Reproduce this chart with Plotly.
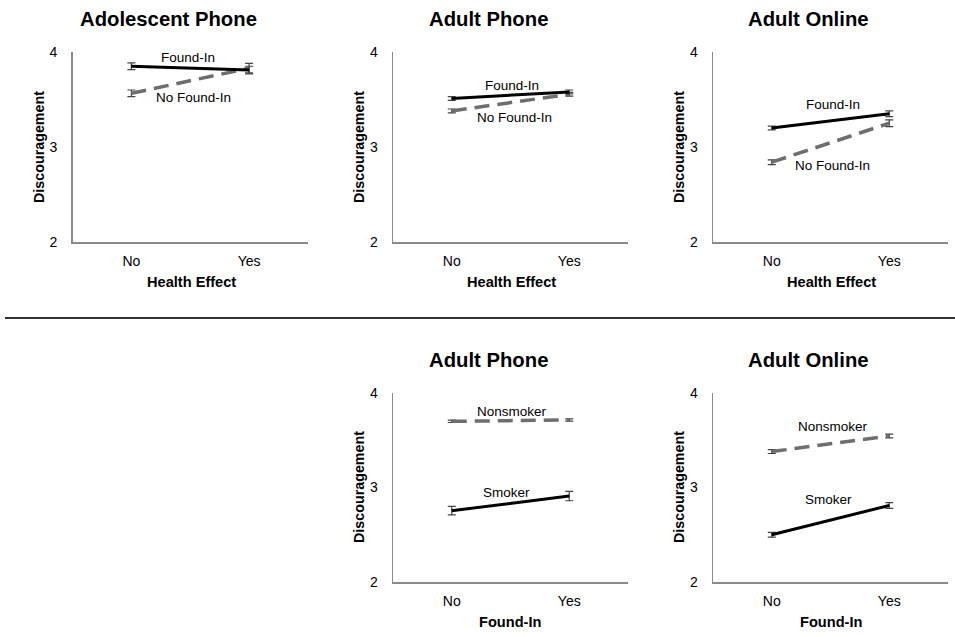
import plotly.graph_objects as go

# ---------------- data ----------------
categories = ["No", "Yes"]

panel_titles = ["Adolescent Phone", "Adult Phone", "Adult Online", "Adult Phone", "Adult Online"]
x_titles = ["Health Effect", "Health Effect", "Health Effect", "Found-In", "Found-In"]
y_title = "Discouragement"
y_ticks = [2, 3, 4]

# top row: lines for Found-In (solid) and No Found-In (dashed)
top_solid_name = "Found-In"
top_dash_name = "No Found-In"
found_in_vals = [[3.85, 3.81], [3.51, 3.58], [3.20, 3.35]]
found_in_err = [[0.035, 0.04], [0.02, 0.02], [0.02, 0.03]]
no_found_in_vals = [[3.565, 3.83], [3.38, 3.555], [2.84, 3.25]]
no_found_in_err = [[0.035, 0.05], [0.02, 0.02], [0.025, 0.035]]

# bottom row: Smoker (solid) and Nonsmoker (dashed)
bot_solid_name = "Smoker"
bot_dash_name = "Nonsmoker"
smoker_vals = [[2.755, 2.91], [2.50, 2.81]]
smoker_err = [[0.045, 0.05], [0.025, 0.03]]
nonsmoker_vals = [[3.70, 3.715], [3.38, 3.545]]
nonsmoker_err = [[0.012, 0.012], [0.02, 0.02]]

# ---------------- layout geometry ----------------
W, H = 955, 637
def px(x):
    return x / W
def py(y):
    return 1 - y / H

# plot areas in pixels (left, right, top, bottom)
areas = [
    (72.5, 308, 52, 242),
    (393, 628, 52, 242),
    (713, 948, 52, 242),
    (393, 628, 393, 582),
    (713, 948, 393, 582),
]
title_pos = [(168, 19), (488, 19), (808, 19), (488, 360), (808, 360)]
xtitle_pos = [(191, 282), (511, 282), (831, 282), (510, 622), (831, 622)]
ytitle_pos = [(39, 147), (359, 147), (679, 147), (359, 487), (679, 487)]
# label annotations (data coords: x index, y value)
label_pos = [
    [(0.48, 3.94, top_solid_name), (0.53, 3.52, top_dash_name)],
    [(0.51, 3.65, top_solid_name), (0.53, 3.31, top_dash_name)],
    [(0.52, 3.45, top_solid_name), (0.52, 2.81, top_dash_name)],
    [(0.51, 3.80, bot_dash_name), (0.47, 2.95, bot_solid_name)],
    [(0.52, 3.65, bot_dash_name), (0.48, 2.87, bot_solid_name)],
]

FONT = "Arial, Liberation Sans, sans-serif"
AXIS_COLOR = "#8a8a8a"
ERR_COLOR = "#444444"

fig = go.Figure()

def add_pair(i, solid_vals, solid_err, dash_vals, dash_err):
    ax = "" if i == 0 else str(i + 1)
    # dashed series first so solid sits on top
    fig.add_trace(go.Scatter(
        x=categories, y=dash_vals, mode="lines",
        line=dict(color="#6e6e6e", width=3.5, dash="15px,8px"),
        error_y=dict(type="data", array=dash_err, color=ERR_COLOR, thickness=1.2, width=4),
        xaxis="x" + ax, yaxis="y" + ax, showlegend=False, hoverinfo="skip"))
    fig.add_trace(go.Scatter(
        x=categories, y=solid_vals, mode="lines",
        line=dict(color="#000000", width=3),
        error_y=dict(type="data", array=solid_err, color=ERR_COLOR, thickness=1.2, width=4),
        xaxis="x" + ax, yaxis="y" + ax, showlegend=False, hoverinfo="skip"))

for i in range(3):
    add_pair(i, found_in_vals[i], found_in_err[i], no_found_in_vals[i], no_found_in_err[i])
for j in range(2):
    add_pair(3 + j, smoker_vals[j], smoker_err[j], nonsmoker_vals[j], nonsmoker_err[j])

layout = dict(
    width=W, height=H,
    margin=dict(l=0, r=0, t=0, b=0, pad=0, autoexpand=False),
    paper_bgcolor="white", plot_bgcolor="white",
    font=dict(family=FONT, color="#000000", size=13),
    showlegend=False,
)

annotations = []
for i, (l, r, t, b) in enumerate(areas):
    ax = "" if i == 0 else str(i + 1)
    layout["xaxis" + ax] = dict(
        domain=[px(l), px(r)], anchor="y" + ax,
        type="category", range=[-0.5, 1.5],
        showline=True, linecolor=AXIS_COLOR, linewidth=1.5,
        showgrid=False, zeroline=False, ticks="", automargin=False,
        tickfont=dict(size=14, family=FONT, color="#000"),
        ticklabelstandoff=6, fixedrange=True,
    )
    layout["yaxis" + ax] = dict(
        domain=[py(b), py(t)], anchor="x" + ax,
        range=[2, 4], tickvals=y_ticks,
        showline=True, linecolor=AXIS_COLOR, linewidth=1.5,
        showgrid=False, zeroline=False, ticks="", automargin=False,
        tickfont=dict(size=14, family=FONT, color="#000"),
        ticklabelstandoff=11, fixedrange=True,
    )
    tx, ty = title_pos[i]
    annotations.append(dict(text="<b>%s</b>" % panel_titles[i], x=px(tx), y=py(ty),
                            xref="paper", yref="paper", showarrow=False,
                            xanchor="center", yanchor="middle",
                            font=dict(size=20.3, family=FONT, color="#000")))
    xx, xy = xtitle_pos[i]
    annotations.append(dict(text="<b>%s</b>" % x_titles[i], x=px(xx), y=py(xy),
                            xref="paper", yref="paper", showarrow=False,
                            xanchor="center", yanchor="middle",
                            font=dict(size=14.6, family=FONT, color="#000")))
    yx, yy = ytitle_pos[i]
    annotations.append(dict(text="<b>%s</b>" % y_title, x=px(yx), y=py(yy),
                            xref="paper", yref="paper", showarrow=False,
                            textangle=-90, xanchor="center", yanchor="middle",
                            font=dict(size=14.3, family=FONT, color="#000")))
    for (lx, ly, lt) in label_pos[i]:
        annotations.append(dict(text=lt, x=lx, y=ly, xref="x" + ax, yref="y" + ax,
                                showarrow=False, xanchor="center", yanchor="middle",
                                font=dict(size=13.5, family=FONT, color="#000")))

layout["annotations"] = annotations
layout["shapes"] = [dict(type="line", xref="paper", yref="paper",
                         x0=px(5), x1=1, y0=py(318), y1=py(318),
                         line=dict(color="#333333", width=2))]

fig.update_layout(**layout)
fig.write_html("out.html",
               config={"displayModeBar": False, "staticPlot": True},
               post_script="document.body.style.margin='0';document.body.style.overflow='hidden';")
